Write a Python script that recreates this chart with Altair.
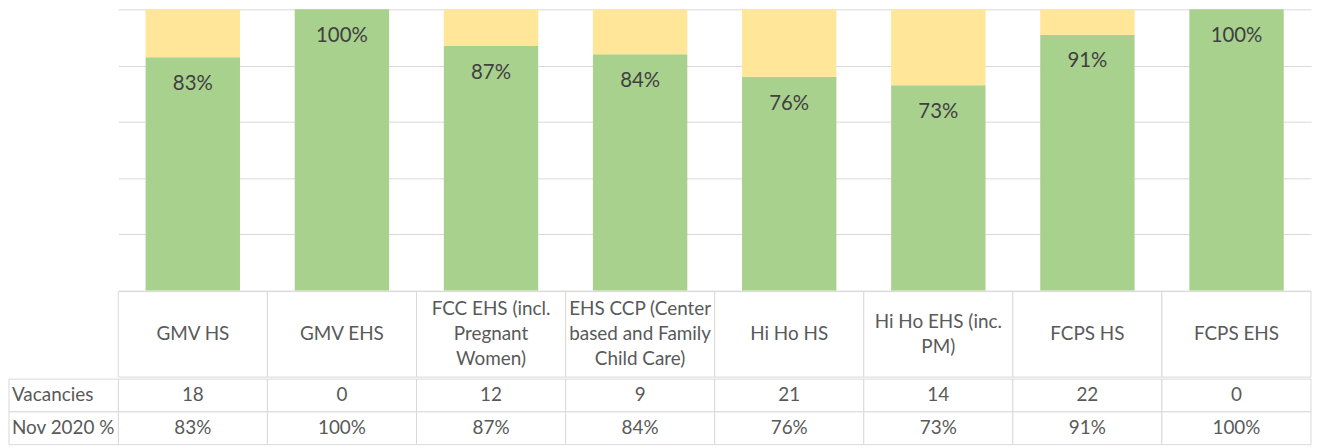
import altair as alt
import pandas as pd

# ---- data -------------------------------------------------------------
categories = [
    "GMV HS",
    "GMV EHS",
    "FCC EHS (incl. Pregnant Women)",
    "EHS CCP (Center based and Family Child Care)",
    "Hi Ho HS",
    "Hi Ho EHS (inc. PM)",
    "FCPS HS",
    "FCPS EHS",
]
header_labels = [
    "GMV HS",
    "GMV EHS",
    "FCC EHS (incl.\nPregnant\nWomen)",
    "EHS CCP (Center\nbased and Family\nChild Care)",
    "Hi Ho HS",
    "Hi Ho EHS (inc.\nPM)",
    "FCPS HS",
    "FCPS EHS",
]
vacancies = [18, 0, 12, 9, 21, 14, 22, 0]
nov2020_pct = [83, 100, 87, 84, 76, 73, 91, 100]
row_labels = ["Vacancies", "Nov 2020 %"]
series_names = ["Enrolled", "Vacant"]
y_ticks = [0, 0.2, 0.4, 0.6, 0.8, 1.0]

# ---- styles -----------------------------------------------------------
GREEN = "#A9D18E"
YELLOW = "#FFE699"
GRID = "#D9D9D9"
FONT = "Lato"
W = 1200
LABEL_W = 110
BAR_H = 283
HDR_H = 86
ROW_H = 33
LINE_H = 25
TBL_FS = 19
BAR_FS = 20.5

# ---- tables -----------------------------------------------------------
bars_rows = []
for i, (c, p) in enumerate(zip(categories, nov2020_pct)):
    bars_rows.append({"cat": c, "series": series_names[0], "value": p / 100, "ord": 0})
    bars_rows.append({"cat": c, "series": series_names[1], "value": 1 - p / 100, "ord": 1})
bars_df = pd.DataFrame(bars_rows)
lab_df = pd.DataFrame({"cat": categories, "pct": [p / 100 for p in nov2020_pct],
                       "label": [f"{p}%" for p in nov2020_pct]})
hdr_df = pd.DataFrame({"cat": categories, "label": header_labels})
cell_rows = []
for c, v, p in zip(categories, vacancies, nov2020_pct):
    cell_rows.append({"cat": c, "row": row_labels[0], "val": str(v)})
    cell_rows.append({"cat": c, "row": row_labels[1], "val": f"{p}%"})
cells_df = pd.DataFrame(cell_rows)
rowlab_df = pd.DataFrame({"row": row_labels})

# ---- bar chart --------------------------------------------------------
xb = alt.X("cat:N", sort=categories,
           scale=alt.Scale(paddingInner=0.367, paddingOuter=0.183), axis=None)
yb_axis = alt.Axis(grid=True, gridColor=GRID, gridWidth=1, labels=False, ticks=False,
                   domain=False, values=y_ticks, title=None,
                   minExtent=LABEL_W, maxExtent=LABEL_W)
bars = alt.Chart(bars_df).mark_bar().encode(
    x=xb,
    y=alt.Y("value:Q", stack="zero", scale=alt.Scale(domain=[0, 1], nice=False),
            axis=yb_axis),
    color=alt.Color("series:N", scale=alt.Scale(domain=series_names, range=[GREEN, YELLOW]),
                    legend=None),
    order=alt.Order("ord:Q"),
)
bar_text = alt.Chart(lab_df).mark_text(
    dy=27, baseline="middle", fontSize=BAR_FS, font=FONT, color="#404040"
).encode(x=xb, y=alt.Y("pct:Q"), text="label:N")
top = alt.layer(bars, bar_text).properties(width=W, height=BAR_H)

# ---- header row -------------------------------------------------------
xt = alt.X("cat:N", sort=categories,
           scale=alt.Scale(paddingInner=0, paddingOuter=0), axis=None)
hdr_cells = alt.Chart(hdr_df).mark_rect(fill="white", stroke=GRID, strokeWidth=1).encode(
    x=xt, y=alt.value(0), y2=alt.value(HDR_H))
hdr_text = alt.Chart(hdr_df).transform_calculate(
    ypix=f"{HDR_H / 2} - (length(split(datum.label, '\\n')) - 1) * {LINE_H / 2}"
).mark_text(
    lineBreak="\n", baseline="middle", fontSize=TBL_FS, lineHeight=LINE_H, font=FONT,
    color="#595959"
).encode(x=xt, y=alt.Y("ypix:Q", scale=None, axis=None), text="label:N")
header = alt.layer(hdr_cells, hdr_text).properties(width=W, height=HDR_H)

# ---- value rows -------------------------------------------------------
yr = alt.Y("row:N", sort=row_labels, scale=alt.Scale(paddingInner=0, paddingOuter=0), axis=None)
cells = alt.Chart(cells_df).mark_rect(fill="white", stroke=GRID, strokeWidth=1).encode(
    x=xt, y=yr)
cell_text = alt.Chart(cells_df).mark_text(
    baseline="middle", fontSize=TBL_FS, font=FONT, color="#595959"
).encode(x=xt, y=yr, text="val:N")
lab_cells = alt.Chart(rowlab_df).mark_rect(fill="white", stroke=GRID, strokeWidth=1).encode(
    x=alt.value(-LABEL_W), x2=alt.value(0), y=yr)
lab_text = alt.Chart(rowlab_df).mark_text(
    align="left", baseline="middle", fontSize=TBL_FS, font=FONT, color="#595959"
).encode(x=alt.value(-LABEL_W + 3), y=yr, text="row:N")
rows = alt.layer(cells, cell_text, lab_cells, lab_text).properties(width=W, height=2 * ROW_H)

chart = alt.vconcat(top, header, rows, spacing=0).properties(padding=0).configure_view(
    stroke=None
).configure_concat(spacing=0)

chart.save("out.html", embed_options={"renderer": "svg", "actions": False})
